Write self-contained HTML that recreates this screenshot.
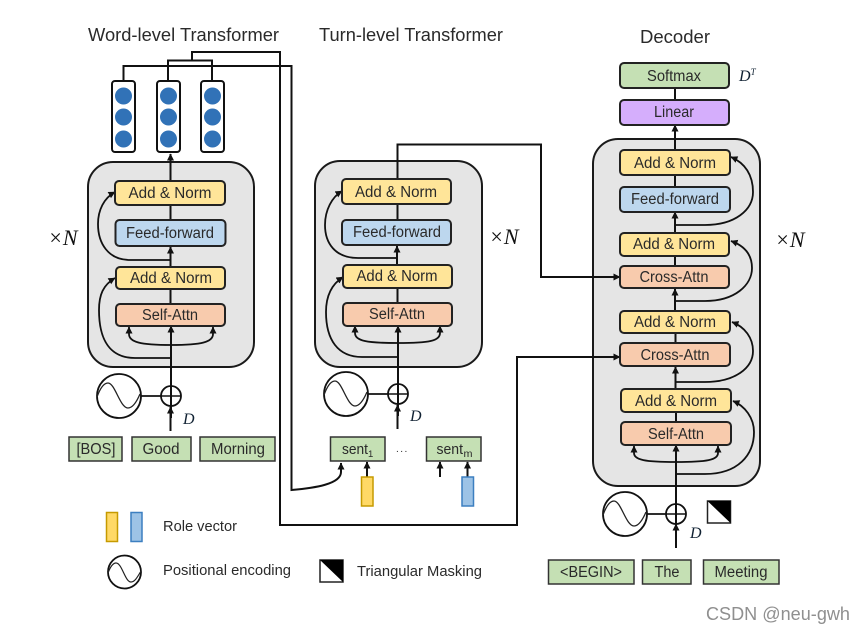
<!DOCTYPE html>
<html><head><meta charset="utf-8"><style>
html,body{margin:0;padding:0;background:#fff}
svg{display:block}
text{font-family:"Liberation Sans",sans-serif;fill:#2a2a2a}
.t{font-size:15.5px;text-anchor:middle}
.h{font-size:18px;fill:#2a2a2a}
.l{font-size:15px}
.n{font-family:"Liberation Serif",serif;font-size:22px;font-style:italic;fill:#111}
.d{font-family:"Liberation Serif",serif;font-size:16px;font-style:italic;fill:#123}
.b{stroke:#222;stroke-width:2}
.w{fill:none;stroke:#111;stroke-width:2}
.c{fill:none;stroke:#111;stroke-width:1.8}
</style></head><body>
<svg width="864" height="634" viewBox="0 0 864 634" xmlns="http://www.w3.org/2000/svg">
<defs>
<marker id="a" markerWidth="8" markerHeight="8" refX="6.5" refY="3.5" orient="auto" markerUnits="userSpaceOnUse"><path d="M0,0L7,3.5L0,7z" fill="#111"/></marker>
<g id="wave"><circle r="22" fill="#fff" stroke="#111" stroke-width="1.8"/><path d="M-22,1C-18,-10-14,-13-11,-13C-4,-13 1,12 9,12C14,12 18,5 21,-2" fill="none" stroke="#222" stroke-width="1.3"/></g>
<g id="plus"><circle r="10" fill="none" stroke="#111" stroke-width="1.8"/></g>
<g id="mask"><rect x="0" y="0" width="23" height="22" fill="#fff" stroke="#222" stroke-width="1.5"/><path d="M0,0H23V22z" fill="#000"/></g>
</defs>
<rect width="864" height="634" fill="#fff"/>

<text class="h" x="88" y="41" textLength="191" lengthAdjust="spacingAndGlyphs">Word-level Transformer</text>
<text class="h" x="319" y="41" textLength="184" lengthAdjust="spacingAndGlyphs">Turn-level Transformer</text>
<text class="h" x="640" y="43" textLength="70" lengthAdjust="spacingAndGlyphs">Decoder</text>

<!-- gray containers -->
<rect x="88" y="162" width="166" height="205" rx="25" fill="#e5e5e5" stroke="#1a1a1a" stroke-width="2"/>
<rect x="315" y="161" width="167" height="206" rx="25" fill="#e5e5e5" stroke="#1a1a1a" stroke-width="2"/>
<rect x="593" y="139" width="167" height="347" rx="25" fill="#e5e5e5" stroke="#1a1a1a" stroke-width="2"/>

<!-- long connectors -->
<path class="w" d="M123.5,81V66H291.5V490C315,488 341,484 341,472V463" marker-end="url(#a)"/>
<path class="w" d="M168,81V60.500H212V81M192,60V52H280V525H517V357H620" marker-end="url(#a)"/>
<path class="w" d="M397.500,180V144.500H541V277H620" marker-end="url(#a)"/>

<!-- word vectors -->
<g fill="#fff" stroke="#111" stroke-width="2">
<rect x="112" y="81" width="23" height="71" rx="3"/><rect x="157" y="81" width="23" height="71" rx="3"/><rect x="201" y="81" width="23" height="71" rx="3"/></g>
<g fill="#3172b7">
<circle cx="123.500" cy="96" r="8.500"/><circle cx="123.500" cy="117" r="8.500"/><circle cx="123.500" cy="139" r="8.500"/>
<circle cx="168.500" cy="96" r="8.500"/><circle cx="168.500" cy="117" r="8.500"/><circle cx="168.500" cy="139" r="8.500"/>
<circle cx="212.500" cy="96" r="8.500"/><circle cx="212.500" cy="117" r="8.500"/><circle cx="212.500" cy="139" r="8.500"/>
</g>

<!-- word encoder connectors -->
<path class="w" d="M170.500,181V154" marker-end="url(#a)"/>
<path class="w" d="M170.500,220V205M170.500,304V289"/>
<path class="w" d="M170.500,266V247" marker-end="url(#a)"/>
<path class="w" d="M171,418V326" marker-end="url(#a)"/>
<path class="c" d="M170,260H130C108,260 98,243 98,224C98,210 104,198 115,192" marker-end="url(#a)"/>
<path class="c" d="M170,358H135C110,358 99,340 99,310C99,295 103,285 115,278" marker-end="url(#a)"/>
<path class="c" d="M171,345C140,345 129,342 129,334V327" marker-end="url(#a)"/>
<path class="c" d="M171,345C202,345 213,342 213,334V327" marker-end="url(#a)"/>
<path class="w" d="M170.500,431V407" marker-end="url(#a)"/>

<!-- turn encoder connectors -->
<path class="w" d="M397.500,219V204M397.500,303V288"/>
<path class="w" d="M397,265V246" marker-end="url(#a)"/>
<path class="w" d="M398,416V326" marker-end="url(#a)"/>
<path class="c" d="M397,258H358C335,258 325,243 325,225C325,210 332,197 342,191" marker-end="url(#a)"/>
<path class="c" d="M397,357H362C338,357 326,340 326,312C326,296 332,284 343,277" marker-end="url(#a)"/>
<path class="c" d="M398,343C367,343 355,341 355,333V326" marker-end="url(#a)"/>
<path class="c" d="M398,343C429,343 440,341 440,333V326" marker-end="url(#a)"/>
<path class="w" d="M397.500,429V405" marker-end="url(#a)"/>

<!-- decoder connectors -->
<path class="w" d="M675,100V88"/>
<path class="w" d="M675,150V125" marker-end="url(#a)"/>
<path class="w" d="M675,187V175M675,266V256M675.500,343V333M676,422V412"/>
<path class="w" d="M675,233V212" marker-end="url(#a)"/>
<path class="w" d="M675,311V289" marker-end="url(#a)"/>
<path class="w" d="M675.500,389V367" marker-end="url(#a)"/>
<path class="w" d="M676,530V445" marker-end="url(#a)"/>
<path class="c" d="M675,225H705C735,225 753,210 753,192C753,175 745,163 731,157" marker-end="url(#a)"/>
<path class="c" d="M675,301H705C735,301 752,285 752,268C752,255 745,246 731,241" marker-end="url(#a)"/>
<path class="c" d="M675,382H705C735,382 753,368 753,351C753,338 745,327 732,322" marker-end="url(#a)"/>
<path class="c" d="M676,474H705C738,474 754,455 754,432C754,418 745,406 733,401" marker-end="url(#a)"/>
<path class="c" d="M676,462C645,462 634,460 634,453V446" marker-end="url(#a)"/>
<path class="c" d="M676,462C707,462 718,460 718,453V446" marker-end="url(#a)"/>
<path class="w" d="M676,548V524" marker-end="url(#a)"/>

<!-- boxes -->
<g class="b">
<rect x="115" y="181" width="110" height="24" rx="4" fill="#ffe599"/>
<rect x="115.500" y="220" width="110" height="26" rx="4" fill="#bdd7ee"/>
<rect x="116" y="267" width="109" height="22" rx="4" fill="#ffe599"/>
<rect x="116" y="304" width="109" height="22" rx="4" fill="#f8cbad"/>
<rect x="342" y="179" width="109" height="25" rx="4" fill="#ffe599"/>
<rect x="342" y="220" width="109" height="25" rx="4" fill="#bdd7ee"/>
<rect x="343" y="265" width="109" height="23" rx="4" fill="#ffe599"/>
<rect x="343" y="303" width="109" height="23" rx="4" fill="#f8cbad"/>
<rect x="620" y="63" width="109" height="25" rx="4" fill="#c5e0b4"/>
<rect x="620" y="100" width="109" height="25" rx="4" fill="#d5aefc"/>
<rect x="620" y="150" width="110" height="25" rx="4" fill="#ffe599"/>
<rect x="620" y="187" width="110" height="25" rx="4" fill="#bdd7ee"/>
<rect x="620" y="233" width="109" height="23" rx="4" fill="#ffe599"/>
<rect x="620" y="266" width="109" height="22" rx="4" fill="#f8cbad"/>
<rect x="620" y="311" width="110" height="22" rx="4" fill="#ffe599"/>
<rect x="620" y="343" width="110" height="23" rx="4" fill="#f8cbad"/>
<rect x="621" y="389" width="110" height="23" rx="4" fill="#ffe599"/>
<rect x="621" y="422" width="110" height="23" rx="4" fill="#f8cbad"/>
</g>
<g class="t">
<text x="170" y="198" textLength="83" lengthAdjust="spacingAndGlyphs">Add &amp; Norm</text>
<text x="170" y="238" textLength="88" lengthAdjust="spacingAndGlyphs">Feed-forward</text>
<text x="171" y="283" textLength="82" lengthAdjust="spacingAndGlyphs">Add &amp; Norm</text>
<text x="170" y="320" textLength="56" lengthAdjust="spacingAndGlyphs">Self-Attn</text>
<text x="396" y="197" textLength="82" lengthAdjust="spacingAndGlyphs">Add &amp; Norm</text>
<text x="397" y="237" textLength="88" lengthAdjust="spacingAndGlyphs">Feed-forward</text>
<text x="397" y="281" textLength="81" lengthAdjust="spacingAndGlyphs">Add &amp; Norm</text>
<text x="397" y="319" textLength="56" lengthAdjust="spacingAndGlyphs">Self-Attn</text>
<text x="674" y="81" textLength="54" lengthAdjust="spacingAndGlyphs">Softmax</text>
<text x="674" y="117" textLength="40" lengthAdjust="spacingAndGlyphs">Linear</text>
<text x="675" y="168" textLength="82" lengthAdjust="spacingAndGlyphs">Add &amp; Norm</text>
<text x="675" y="204" textLength="88" lengthAdjust="spacingAndGlyphs">Feed-forward</text>
<text x="674" y="249" textLength="82" lengthAdjust="spacingAndGlyphs">Add &amp; Norm</text>
<text x="674" y="282" textLength="69" lengthAdjust="spacingAndGlyphs">Cross-Attn</text>
<text x="675" y="327" textLength="82" lengthAdjust="spacingAndGlyphs">Add &amp; Norm</text>
<text x="675" y="360" textLength="69" lengthAdjust="spacingAndGlyphs">Cross-Attn</text>
<text x="676" y="406" textLength="82" lengthAdjust="spacingAndGlyphs">Add &amp; Norm</text>
<text x="676" y="439" textLength="56" lengthAdjust="spacingAndGlyphs">Self-Attn</text>
</g>

<!-- ×N -->
<text class="n" x="48" y="245">×N</text>
<text class="n" x="489" y="244">×N</text>
<text class="n" x="775" y="247">×N</text>

<!-- positional encoding -->
<use href="#wave" x="119" y="396"/><path class="c" d="M141,396H161"/>
<use href="#plus" x="171" y="396"/><path d="M161,396H181" stroke="#111" stroke-width="1.500"/>
<use href="#wave" x="346" y="394"/><path class="c" d="M368,394H388"/>
<use href="#plus" x="398" y="394"/><path d="M388,394H408" stroke="#111" stroke-width="1.500"/>
<use href="#wave" x="625" y="514"/><path class="c" d="M647,514H666"/>
<use href="#plus" x="676" y="514"/><path d="M666,514H686" stroke="#111" stroke-width="1.500"/>
<text class="d" x="183" y="424">D</text>
<text class="d" x="410" y="421">D</text>
<text class="d" x="690" y="538">D</text>
<text class="d" x="739" y="81">D<tspan font-size="9" dy="-6">T</tspan></text>

<!-- tokens -->
<g fill="#c5e0b4" stroke="#333" stroke-width="1.500">
<rect x="69" y="437" width="53" height="24"/><rect x="132" y="437" width="59" height="24"/><rect x="200" y="437" width="75" height="24"/>
<rect x="330.500" y="437" width="54.500" height="24"/><rect x="426.500" y="437" width="54.500" height="24"/>
<rect x="548.500" y="560" width="85.500" height="24"/><rect x="642.500" y="560" width="48.500" height="24"/><rect x="703.500" y="560" width="75.500" height="24"/>
</g>
<g class="t">
<text x="96" y="454" textLength="39" lengthAdjust="spacingAndGlyphs">[BOS]</text>
<text x="161" y="454" textLength="37" lengthAdjust="spacingAndGlyphs">Good</text>
<text x="238" y="454" textLength="54" lengthAdjust="spacingAndGlyphs">Morning</text>
<text x="591" y="577" textLength="62" lengthAdjust="spacingAndGlyphs">&lt;BEGIN&gt;</text>
<text x="667" y="577" textLength="25" lengthAdjust="spacingAndGlyphs">The</text>
<text x="741" y="577" textLength="53" lengthAdjust="spacingAndGlyphs">Meeting</text>
</g>
<text x="342" y="454" font-size="15" textLength="26" lengthAdjust="spacingAndGlyphs">sent</text><text x="368" y="457" font-size="9.500">1</text>
<text x="436.500" y="454" font-size="15" textLength="26.500" lengthAdjust="spacingAndGlyphs">sent</text><text x="463.500" y="457" font-size="10.500" textLength="9" lengthAdjust="spacingAndGlyphs">m</text>
<text x="396" y="452" font-size="10" letter-spacing="1.500">...</text>

<!-- sent inputs -->
<path class="w" d="M367,477V462" marker-end="url(#a)"/>
<path class="w" d="M440,477V462" marker-end="url(#a)"/>
<path class="w" d="M467.500,477V462" marker-end="url(#a)"/>
<rect x="361.500" y="477" width="11.500" height="29" fill="#ffd966" stroke="#c69a00" stroke-width="1.500"/>
<rect x="462" y="477" width="11.500" height="29" fill="#9dc3e6" stroke="#3c7fc0" stroke-width="1.500"/>

<!-- mask -->
<use href="#mask" x="707.500" y="501"/>

<!-- legend -->
<rect x="106.500" y="512.500" width="11" height="29" fill="#ffd966" stroke="#c69a00" stroke-width="1.500"/>
<rect x="131" y="512.500" width="11" height="29" fill="#9dc3e6" stroke="#3c7fc0" stroke-width="1.500"/>
<text class="l" x="163" y="531" textLength="74" lengthAdjust="spacingAndGlyphs">Role vector</text>
<circle cx="124.500" cy="572" r="16.500" fill="#fff" stroke="#111" stroke-width="1.800"/>
<path d="M108,573C111,565 114,563 116,563C122,563 125,582 131,582C135,582 138,576 141,571" fill="none" stroke="#222" stroke-width="1.200"/>
<text class="l" x="163" y="575" textLength="128" lengthAdjust="spacingAndGlyphs">Positional encoding</text>
<use href="#mask" x="320" y="560"/>
<text class="l" x="357" y="576" textLength="125" lengthAdjust="spacingAndGlyphs">Triangular Masking</text>

<text x="706" y="620" font-size="18" style="fill:#8f8f8f" textLength="144" lengthAdjust="spacingAndGlyphs">CSDN @neu-gwh</text>
</svg>
</body></html>
